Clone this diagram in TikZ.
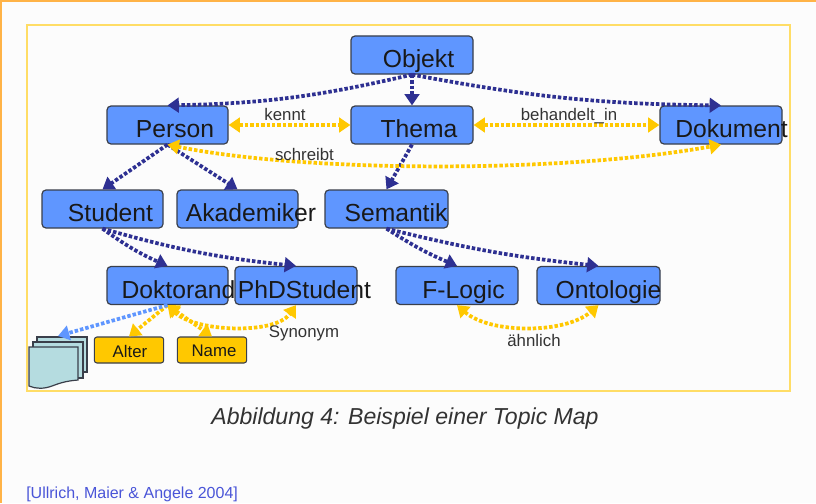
\documentclass[tikz,border=0pt]{standalone}
\usepackage{fontspec}
\setmainfont{Liberation Sans}
\usetikzlibrary{arrows.meta,calc,positioning}
\definecolor{bluebox}{HTML}{5F96FF}
\definecolor{navy}{HTML}{2E3092}
\definecolor{gold}{HTML}{FFC800}
\definecolor{frameY}{HTML}{FFDD66}
\definecolor{orangeS}{HTML}{FFB347}
\definecolor{docfill}{HTML}{B5DCE0}
\definecolor{edgeC}{HTML}{3A3F4A}
\definecolor{citeB}{HTML}{4A55D8}
\tikzset{
  x=0.75pt,y=-0.75pt,
  topic/.style={draw=edgeC,line width=0.9pt,fill=bluebox,rounded corners=3pt,minimum width=91pt,minimum height=28.5pt,inner sep=0pt},
  attr/.style={draw=edgeC,line width=0.8pt,fill=gold,rounded corners=2pt,minimum width=52pt,minimum height=19.5pt,inner sep=0pt},
  big/.style={anchor=base,inner sep=0pt,font=\fontsize{18.5}{22}\selectfont,text=black!90},
  small/.style={inner sep=0pt,font=\fontsize{12.6}{14}\selectfont,text=black!80},
  dotline/.style={line width=2.8pt,dash pattern=on 2.6pt off 1.5pt},
  isa/.style={dotline,draw=navy,-{Triangle[length=8.5pt,width=11pt]}},
  rel/.style={dotline,draw=gold,{Triangle[length=8.5pt,width=11pt]}-{Triangle[length=8.5pt,width=11pt]}},
  relto/.style={dotline,draw=gold,-{Triangle[length=8.5pt,width=11pt]}},
  doclink/.style={dotline,draw=bluebox,-{Triangle[length=8.5pt,width=11pt]}},
  pagesheet/.style={draw=edgeC,line width=0.9pt,fill=docfill},
}
\newcommand{\tbox}[6]{%
  \node[topic,minimum width=#4*0.75pt] (#1) at (#2,#3+19) {};
  \node[big] (#1t) at (#5,#3+31.5) {#6};
}
\begin{document}
\begin{tikzpicture}
\useasboundingbox (0,0) rectangle (816,503);
\fill[white!98!gray] (0,0) rectangle (816,503);
\fill[orangeS] (0,0) rectangle (816,2);
\fill[orangeS] (0,0) rectangle (1.5,503);
\draw[frameY,line width=1pt] (27,25) rectangle (790,391);

% document stack
\draw[pagesheet] (37,337) -- (87,337) -- (87,372) -- (37,372) -- cycle;
\draw[pagesheet] (33,342) -- (83,342) -- (83,378) -- (33,378) -- cycle;
\draw[pagesheet] (29,347) -- (78,347) -- (78,380) .. controls (66,381) and (60,383) .. (52,386) .. controls (44,389) and (36,389) .. (29,386) -- cycle;
\coordinate (doctip) at (58,336);

% topics
\tbox{objekt}{412}{36}{122}{418.5}{Objekt}
\tbox{person}{167.5}{106}{121}{175}{Person}
\tbox{thema}{412}{106}{122}{419}{Thema}
\tbox{dokument}{721}{106}{122}{731.5}{Dokument}
\tbox{student}{102.5}{190}{121}{110.5}{Student}
\tbox{akademiker}{237.5}{190}{121}{251}{Akademiker}
\tbox{semantik}{386.5}{190}{123}{396}{Semantik}
\tbox{doktorand}{167.5}{266.5}{121}{178.5}{Doktorand}
\tbox{phd}{296}{266.5}{122}{304.5}{PhDStudent}
\tbox{flogic}{457}{266.5}{122}{463.5}{F-Logic}
\tbox{ontologie}{598.5}{266.5}{123}{608.5}{Ontologie}
\node[attr] (alter) at (129,350) {};
\node[attr] (name) at (212,350) {};
\node[small,text=black!90] (altert) at (130,351) {Alter};
\node[small,text=black!90] (namet) at (214,351) {Name};

% is-a links
\draw[isa] (objekt.south) to[bend left=6] (person.north);
\draw[isa] (objekt.south) -- (thema.north);
\draw[isa] (objekt.south) to[bend right=5] (dokument.north);
\draw[isa] (person.south) -- (student.north);
\draw[isa] (person.south) -- (akademiker.north);
\draw[isa] (thema.south) -- (semantik.north);
\draw[isa] (student.south) to[bend right=6] (doktorand.north);
\draw[isa] (student.south) to[bend right=5] (phd.north);
\draw[isa] (semantik.south) to[bend right=5] (flogic.north);
\draw[isa] (semantik.south) to[bend right=4] (ontologie.north);

% relations
\draw[rel] (person.east) -- (thema.west);
\draw[rel] (thema.east) -- (dokument.west);
\draw[rel] (person.south) .. controls (300,172) and (560,174) .. (dokument.south);
\draw[rel] (doktorand.south) .. controls (195,332) and (275,335) .. (phd.south);
\draw[rel] (flogic.south) .. controls (490,334) and (565,334) .. (ontologie.south);
\draw[relto] (doktorand.south) -- (alter.north);
\draw[rel] (doktorand.south) -- (name.north);
\draw[doclink] (doktorand.south) -- (doctip);

% labels
\node[small] (kennt) at (285,114) {kennt};
\node[small] (behandelt) at (569,116) {behandelt\_in};
\node[small] (schreibt) at (304.5,154) {schreibt};
\node[small] (synonym) at (304,333) {Synonym};
\node[small] (aehnlich) at (534,340) {ähnlich};
\node[inner sep=0pt,font=\fontsize{17.3}{20}\selectfont\itshape,text=black!80] (caption) at (405,419) {Abbildung 4: Beispiel einer Topic Map};
\node[inner sep=0pt,anchor=west,font=\fontsize{12}{14}\selectfont,text=citeB] (cite) at (26,494) {[Ullrich, Maier \& Angele 2004]};
\end{tikzpicture}
\end{document}
